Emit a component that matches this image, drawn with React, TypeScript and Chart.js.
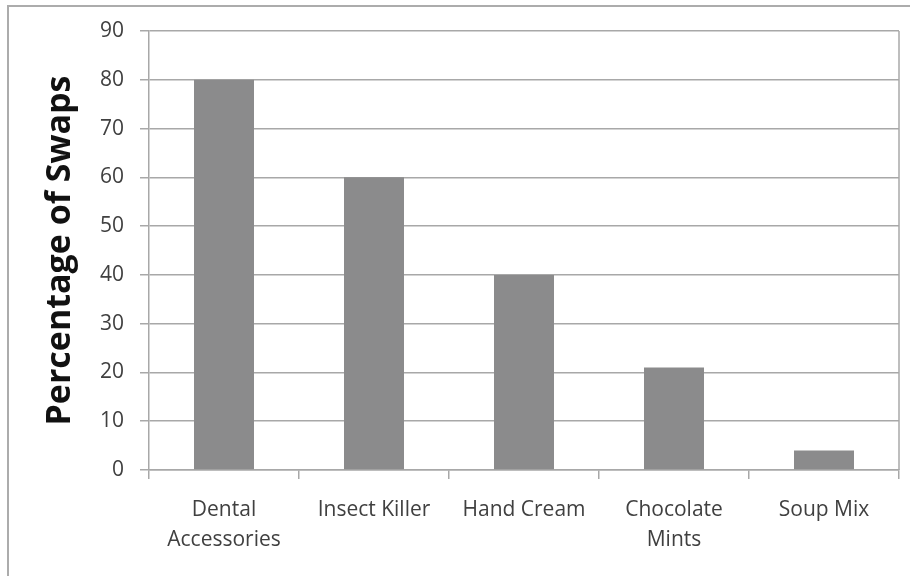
import React, { useEffect, useRef } from "react";
import { Chart, registerables } from "chart.js";

Chart.register(...registerables);

const categories: (string | string[])[] = [
  ["Dental", "Accessories"],
  "Insect Killer",
  "Hand Cream",
  ["Chocolate", "Mints"],
  "Soup Mix",
];
const swapPercentages = [80, 60, 40, 21, 4];
const yTicks = [0, 10, 20, 30, 40, 50, 60, 70, 80, 90];
const yAxisTitle = "Percentage of Swaps";

const GRID = "#a8a8a8";
const LABEL = "#404040";
const BAR = "#8b8b8c";
const FONT = "'Open Sans', sans-serif";

// Outer chart frame plus the right-hand edge of the plot area
const framePlugin = {
  id: "frame",
  afterDraw(chart: Chart) {
    const { ctx, chartArea } = chart;
    ctx.save();
    ctx.strokeStyle = "#acacac";
    ctx.lineWidth = 2;
    ctx.beginPath();
    ctx.moveTo(8, 576);
    ctx.lineTo(8, 6);
    ctx.lineTo(910, 6);
    ctx.stroke();
    ctx.strokeStyle = GRID;
    ctx.lineWidth = 1.5;
    ctx.beginPath();
    ctx.moveTo(chartArea.right, chartArea.top);
    ctx.lineTo(chartArea.right, chartArea.bottom);
    ctx.stroke();
    ctx.restore();
  },
};

export default function App() {
  const canvasRef = useRef<HTMLCanvasElement | null>(null);

  useEffect(() => {
    document.body.style.margin = "0";
    const canvas = canvasRef.current;
    if (!canvas) return;
    const chart = new Chart(canvas, {
      type: "bar",
      data: {
        labels: categories,
        datasets: [
          {
            data: swapPercentages,
            backgroundColor: BAR,
            borderWidth: 0,
            categoryPercentage: 1,
            barPercentage: 0.4,
          },
        ],
      },
      options: {
        animation: false,
        responsive: false,
        layout: { padding: { top: 31, right: 11, left: 0, bottom: 0 } },
        plugins: { legend: { display: false }, tooltip: { enabled: false } },
        scales: {
          x: {
            grid: {
              drawOnChartArea: false,
              drawTicks: true,
              tickLength: 9,
              color: GRID,
              lineWidth: 1.5,
              offset: true,
            },
            border: { color: GRID, width: 1.5 },
            ticks: {
              autoSkip: false,
              maxRotation: 0,
              minRotation: 0,
              padding: 16,
              color: LABEL,
              font: { family: FONT, size: 21, lineHeight: 1.43 },
            },
            afterFit(scale: any) {
              scale.height = 106;
            },
          },
          y: {
            min: 0,
            max: 90,
            afterBuildTicks(scale: any) {
              scale.ticks = yTicks.map((v) => ({ value: v }));
            },
            grid: {
              color: GRID,
              lineWidth: 1.5,
              tickLength: 9,
            },
            border: { color: GRID, width: 1.5 },
            ticks: {
              padding: 16,
              color: LABEL,
              font: { family: FONT, size: 21 },
            },
            title: {
              display: true,
              text: yAxisTitle,
              color: "#111111",
              font: { family: FONT, size: 34, weight: "bold" },
              padding: { top: 40, bottom: 0 },
            },
            afterFit(scale: any) {
              scale.width = 149;
            },
          },
        },
      },
      plugins: [framePlugin],
    });
    return () => chart.destroy();
  }, []);

  return (
    <div style={{ width: 910, height: 576, background: "#ffffff" }}>
      <canvas ref={canvasRef} width={910} height={576} />
    </div>
  );
}
